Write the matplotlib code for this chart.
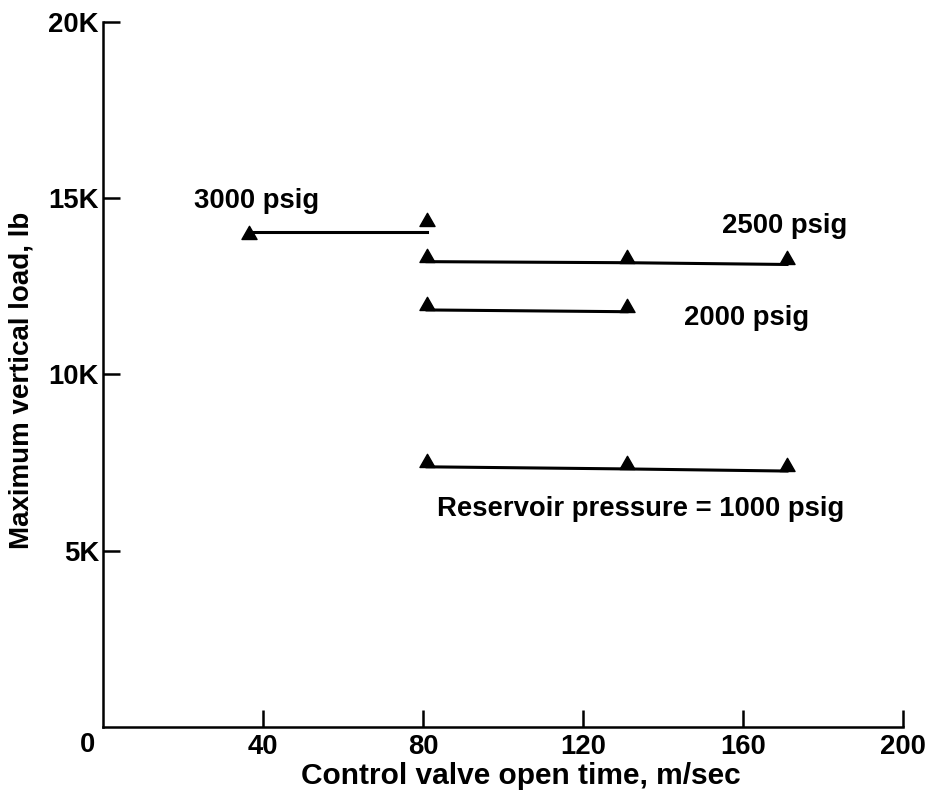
import matplotlib
matplotlib.use("Agg")
from matplotlib import pyplot as plt
from matplotlib.path import Path

plt.rcParams['font.family'] = ['Liberation Sans', 'DejaVu Sans']
plt.rcParams['font.weight'] = 'bold'

# valve open time (m/sec) and max vertical load (thousands of lb)
x_3000_line = [36.5, 81]
y_3000_line = [14.04, 14.04]
x_3000_pts = [36.5, 81]
y_3000_pts = [13.84, 14.2]

x_2500 = [81, 131, 171]
y_2500 = [13.2, 13.17, 13.12]

x_2000 = [81, 131]
y_2000 = [11.83, 11.78]

x_1000 = [81, 131, 171]
y_1000 = [7.38, 7.32, 7.26]

x_ticks = [40, 80, 120, 160, 200]
y_ticks = [5, 10, 15, 20]
y_tick_labels = ['5K', '10K', '15K', '20K']

labels = ['3000 psig', '2500 psig', '2000 psig', 'Reservoir pressure = 1000 psig']
label_x = [38.3, 170.5, 160.8, 134.3]
label_y = [14.92, 14.2, 11.6, 6.18]

# triangle with its base on the data point
tri = Path([(-1, 0), (1, 0), (0, 1.75), (-1, 0)],
           [Path.MOVETO, Path.LINETO, Path.LINETO, Path.CLOSEPOLY])

fig = plt.figure(figsize=(9.29, 7.98), dpi=100)
ax = fig.add_axes([0.111, 0.089, 0.861, 0.8835])

mk = dict(marker=tri, markersize=19, color='k', linestyle='none')
ax.plot(x_3000_line, y_3000_line, color='k', lw=2.2)
ax.plot(x_3000_pts, y_3000_pts, **mk)
for xs, ys in [(x_2500, y_2500), (x_2000, y_2000), (x_1000, y_1000)]:
    ax.plot(xs, ys, color='k', lw=2.2)
    ax.plot(xs, ys, **mk)

for t, tx, ty in zip(labels, label_x, label_y):
    ax.text(tx, ty, t, ha='center', va='center', fontsize=19.8, fontweight='bold')

ax.set_xlim(0, 200)
ax.set_ylim(0, 20)
ax.set_xticks(x_ticks)
ax.set_xticklabels([str(v) for v in x_ticks])
ax.set_yticks(y_ticks)
ax.set_yticklabels(y_tick_labels)
ax.text(-4, -0.51, '0', ha='center', va='center', fontsize=19.8, fontweight='bold', clip_on=False)

ax.spines['top'].set_visible(False)
ax.spines['right'].set_visible(False)
for s in ['left', 'bottom']:
    ax.spines[s].set_linewidth(1.8)
ax.tick_params(direction='in', length=12, width=1.8, labelsize=19.8)
ax.tick_params(axis='x', pad=5)
ax.tick_params(axis='y', pad=3)

ax.set_xlabel('Control valve open time, m/sec', fontsize=21.5, fontweight='bold')
ax.set_ylabel('Maximum vertical load, lb', fontsize=20, fontweight='bold')
ax.xaxis.set_label_coords(0.5225, -0.0695)
ax.yaxis.set_label_coords(-0.102, 0.492)
ax.xaxis.label.set_va('center')
ax.yaxis.label.set_va('center')

fig.savefig('out.png', dpi=100)
